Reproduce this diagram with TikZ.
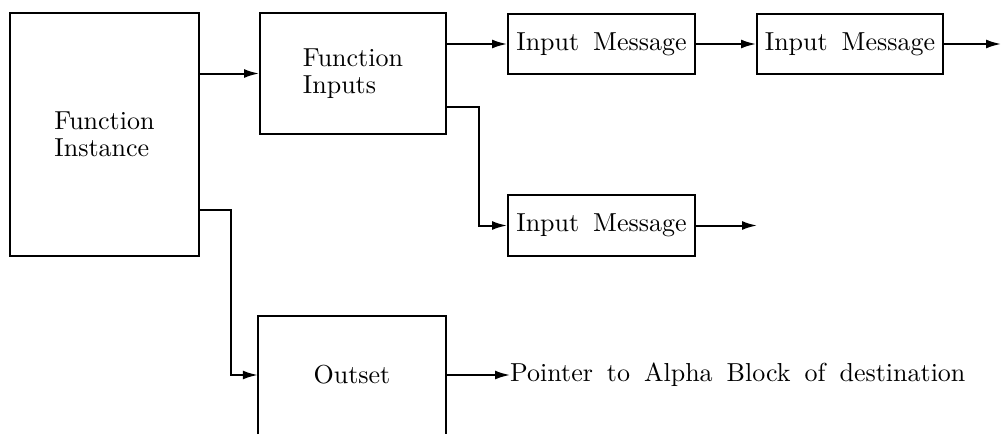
\documentclass[tikz,border=0pt]{standalone}
\usepackage{fontspec}
\setmainfont{lmroman10-regular}[Extension=.otf]
\usetikzlibrary{arrows.meta}
\newcommand\diagfont{\fontsize{26}{27}\selectfont\spaceskip=14pt plus 2pt minus 1pt\relax}
\begin{document}
\begin{tikzpicture}[x=1pt,y=-1pt,
  every node/.style={font=\diagfont},
  blk/.style={draw,line width=2pt,inner sep=0pt},
  conn/.style={line width=2pt,-{Latex[length=15pt,width=9pt]}},
  plain/.style={line width=2pt}]
\useasboundingbox (0,0) rectangle (1001,434);

% main blocks
\node[blk,minimum width=189pt,minimum height=243pt,align=left] (fi) at (104.5,134.5) {Function\\Instance};
\node[blk,minimum width=186pt,minimum height=121pt,align=left] (fin) at (353,73.5) {Function\\Inputs};
\node[blk,minimum width=187pt,minimum height=60pt] (im1) at (601.5,44) {Input Message};
\node[blk,minimum width=186pt,minimum height=60pt] (im2) at (850,44) {Input Message};
\node[blk,minimum width=187pt,minimum height=61pt] (im3) at (601.5,225.5) {Input Message};

% outset block, open at the bottom
\node[inner sep=0pt,minimum width=188pt,minimum height=118pt] (os) at (352,375) {Outset};
\draw[plain] (os.south west) -- (os.north west) -- (os.north east) -- (os.south east);

\node[anchor=west,inner sep=0pt] (ptr) at (510,375) {Pointer to Alpha Block of destination};

% free ends of the outgoing arrows
\coordinate (e2) at (1001,44);
\coordinate (e3) at (757,225.5);

% connectors
\draw[conn] (fi.east |- fin.west) -- (fin.west);
\draw[conn] (fin.east |- im1.west) -- (im1.west);
\draw[conn] (im1.east) -- (im2.west);
\draw[conn] (im2.east) -- (e2);
\draw[conn] ([yshift=-33.5pt]fin.east) -- ++(32,0) |- (im3.west);
\draw[conn] (im3.east) -- (e3);
\draw[conn] ([yshift=47pt]fi.south east) -- ++(31,0) |- (os.west);
\draw[conn] (os.east) -- (ptr.west);
\end{tikzpicture}
\end{document}
